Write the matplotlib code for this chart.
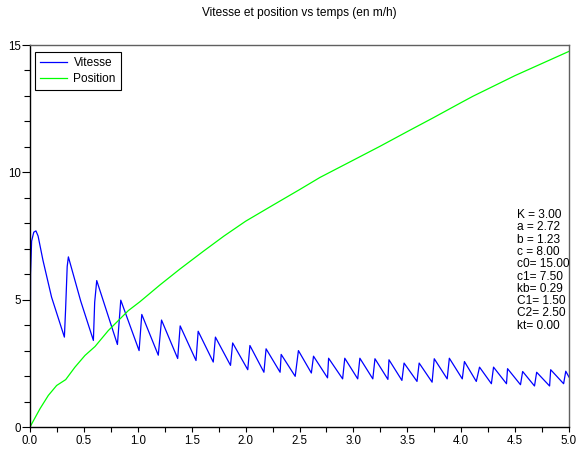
import matplotlib
matplotlib.use('Agg')
import matplotlib.pyplot as plt
from matplotlib.ticker import MultipleLocator, FormatStrFormatter

plt.rcParams['font.family'] = ['Liberation Sans', 'DejaVu Sans']

# Vitesse (sawtooth)
vit_t = [0.0, 0.005, 0.015, 0.035, 0.055, 0.075, 0.12, 0.2, 0.319,
         0.33, 0.345, 0.356, 0.47, 0.588,
         0.60, 0.619, 0.811,
         0.842, 1.012, 1.037, 1.19, 1.22, 1.37, 1.393, 1.54,
         1.56, 1.70, 1.72, 1.86, 1.88, 2.02, 2.04, 2.17, 2.19, 2.32,
         2.33, 2.46, 2.49, 2.61, 2.63, 2.76, 2.77, 2.90, 2.92, 3.04,
         3.06, 3.18, 3.20, 3.32, 3.33, 3.45, 3.47, 3.59, 3.61, 3.73,
         3.75, 3.87, 3.89, 4.01, 4.03, 4.14, 4.17, 4.28, 4.30, 4.42,
         4.43, 4.55, 4.57, 4.68, 4.70, 4.82, 4.83, 4.95, 4.97, 5.0]
vit_v = [0.0, 6.0, 7.3, 7.65, 7.7, 7.5, 6.55, 5.1, 3.53,
         4.6, 6.3, 6.68, 4.95, 3.40,
         4.9, 5.75, 3.24,
         4.98, 3.00, 4.42, 2.82, 4.20, 2.69, 3.97, 2.61,
         3.76, 2.55, 3.53, 2.42, 3.30, 2.25, 3.20, 2.15, 3.07, 2.15,
         2.85, 1.99, 3.00, 2.12, 2.78, 1.93, 2.70, 1.89, 2.70, 1.89,
         2.70, 1.89, 2.68, 1.87, 2.64, 1.83, 2.51, 1.79, 2.51, 1.76,
         2.68, 1.89, 2.70, 1.89, 2.57, 1.79, 2.35, 1.70, 2.35, 1.70,
         2.29, 1.66, 2.18, 1.61, 2.15, 1.61, 2.25, 1.70, 2.19, 1.96]

# Position
pos_t = [0.0, 0.093, 0.17, 0.247, 0.331, 0.417, 0.51, 0.603, 0.727, 0.912,
         1.02, 1.206, 1.39, 1.608, 1.8, 2.0, 2.257, 2.5, 2.69, 3.0, 3.25,
         3.5, 3.74, 4.0, 4.11, 4.5, 5.0]
pos_v = [0.0, 0.72, 1.24, 1.63, 1.86, 2.35, 2.81, 3.16, 3.79, 4.57,
         4.92, 5.58, 6.2, 6.9, 7.5, 8.08, 8.72, 9.32, 9.8, 10.48, 11.03,
         11.6, 12.14, 12.74, 12.99, 13.8, 14.75]

params = ['K = 3.00', 'a = 2.72', 'b = 1.23', 'c = 8.00', 'c0= 15.00',
          'c1= 7.50', 'kb= 0.29', 'C1= 1.50', 'C2= 2.50', 'kt= 0.00']

W, H = 580, 449
fig = plt.figure(figsize=(W / 100, H / 100), dpi=100)
ax = fig.add_axes([30 / W, 1 - 427 / H, 539 / W, 382 / H])

ax.plot(vit_t, vit_v, color='#0000ff', lw=0.9, label='Vitesse')
ax.plot(pos_t, pos_v, color='#00ff00', lw=0.9, label='Position')

ax.set_xlim(0, 5)
ax.set_ylim(0, 15)
ax.xaxis.set_major_locator(MultipleLocator(0.5))
ax.xaxis.set_minor_locator(MultipleLocator(0.25))
ax.xaxis.set_major_formatter(FormatStrFormatter('%.1f'))
ax.yaxis.set_major_locator(MultipleLocator(5))
ax.yaxis.set_minor_locator(MultipleLocator(1))

ax.tick_params(axis='x', which='both', direction='out', length=3.6, width=0.8,
               labelsize=8.3, pad=2.5)
ax.tick_params(axis='y', which='major', direction='out', length=5.8, width=0.8,
               labelsize=8.3, pad=1.0)
ax.tick_params(axis='y', which='minor', direction='out', length=4.3, width=0.8)

for s in ['left', 'bottom']:
    ax.spines[s].set_color('black')
    ax.spines[s].set_linewidth(1.0)
for s in ['top', 'right']:
    ax.spines[s].set_color('#606060')
    ax.spines[s].set_linewidth(1.0)

leg = ax.legend(loc='upper left', bbox_to_anchor=(35 / W, 1 - 51.7 / H),
                bbox_transform=fig.transFigure, borderaxespad=0,
                fontsize=8.6, handlelength=2.3, handletextpad=0.5,
                labelspacing=0.38, borderpad=0.42, fancybox=False,
                framealpha=1, edgecolor='black')
leg.get_frame().set_linewidth(0.8)

for i, s in enumerate(params):
    fig.text(516.7 / W, 1 - (215 + i * 12.3) / H, s, fontsize=8.6,
             ha='left', va='center')

fig.text(299.5 / W, 1 - 13 / H, 'Vitesse et position vs temps (en m/h)',
         fontsize=8.6, ha='center', va='center')

fig.savefig('out.png', dpi=100)
